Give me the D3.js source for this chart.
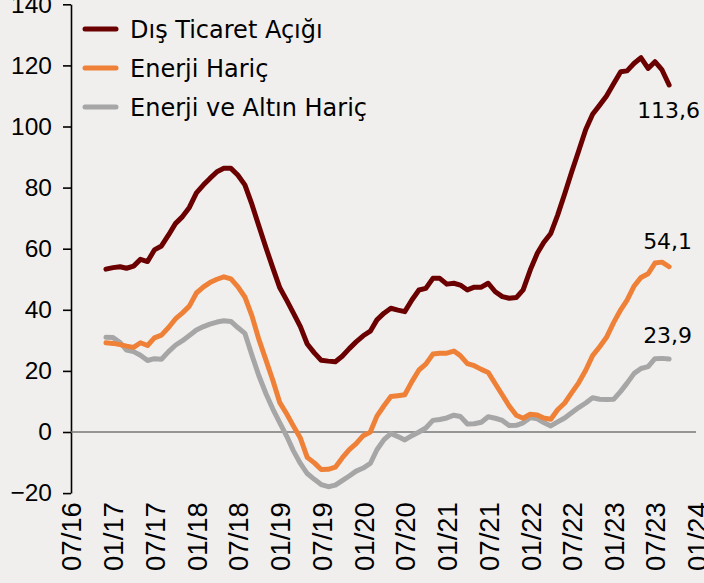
<!DOCTYPE html>
<html>
<head>
<meta charset="utf-8">
<script src="https://cdn.jsdelivr.net/npm/d3@7"></script>
<style>
    body { margin: 0; background: #f1efee; }
    #chart { width: 704px; height: 583px; }
</style>
</head>
<body>
<div id="chart"></div>
<script>
// monthly, 12/2016 - 09/2023 (12-month rolling, billion USD)
const firstMonth = "2016-12";
const lastMonth = "2023-09";

const disTicaret = [
    53.3, 53.8, 54.1, 53.6, 54.3, 56.5, 55.8, 59.6, 60.9, 64.5,
    68.2, 70.5, 73.5, 78.3, 80.9, 83.0, 85.2, 86.3, 86.3, 84.1,
    80.9, 74.5, 67.5, 60.4, 53.8, 47.2, 43.0, 39.0, 34.5, 28.8,
    25.9, 23.5, 23.2, 23.0, 24.8, 27.3, 29.5, 31.5, 33.0, 36.7,
    38.9, 40.5, 39.9, 39.4, 43.2, 46.5, 47.0, 50.3, 50.3, 48.4,
    48.7, 48.1, 46.5, 47.4, 47.4, 48.7, 45.9, 44.3, 43.8, 44.0,
    46.5, 53.0, 58.5, 62.0, 65.0, 71.0, 78.0, 85.0, 92.0, 99.0,
    104.0, 107.0, 110.0, 114.0, 117.9, 118.2, 120.7, 122.5, 119.0, 121.2,
    118.5, 113.6
];

const enerjiHaric = [
    29.2, 29.0, 28.6, 28.1, 27.7, 29.2, 28.3, 30.8, 31.7, 34.2,
    37.0, 39.0, 41.2, 45.5, 47.5, 48.9, 50.0, 50.8, 50.1, 47.6,
    44.2, 38.0, 30.4, 23.6, 17.0, 9.6, 5.8, 2.0, -2.0, -8.3,
    -10.1, -12.3, -12.2, -11.5, -8.5, -5.8, -3.8, -1.2, 0.0, 5.2,
    8.6, 11.6, 11.9, 12.2, 16.5, 20.3, 22.2, 25.5, 25.8, 25.8,
    26.5, 25.0, 22.4, 21.7, 20.5, 19.5, 15.8, 12.1, 8.5, 5.5,
    4.5, 5.8, 5.6, 4.6, 4.2, 7.3, 9.5, 12.8, 16.1, 20.2,
    25.0, 27.9, 31.0, 35.8, 40.0, 43.2, 47.8, 50.6, 51.8, 55.3,
    55.6, 54.1
];

const enerjiAltinHaric = [
    31.0, 30.9, 29.3, 26.8, 26.3, 25.1, 23.4, 24.0, 23.8, 26.3,
    28.4, 29.9, 31.6, 33.4, 34.5, 35.3, 36.0, 36.4, 36.2, 34.2,
    32.3, 25.1, 18.5, 12.6, 7.6, 3.0, -1.5, -6.1, -10.3, -13.6,
    -15.5, -17.2, -17.9, -17.4, -15.9, -14.4, -12.8, -11.8, -10.3, -5.8,
    -2.5, -0.5, -1.5, -2.6, -1.2, 0.0, 1.3, 3.8, 4.1, 4.6,
    5.5, 5.1, 2.6, 2.7, 3.2, 5.0, 4.5, 3.8, 2.1, 2.2,
    3.0, 4.7, 4.3, 3.1, 2.0, 3.3, 4.6, 6.3, 8.0, 9.5,
    11.2, 10.7, 10.6, 10.7, 13.3, 16.0, 19.2, 20.8, 21.4, 24.0,
    24.1, 23.9
];

const seriesNames = ["Dış Ticaret Açığı", "Enerji Hariç", "Enerji ve Altın Hariç"];
const seriesColors = ["#6b0000", "#ee8137", "#a6a6a6"];
const endLabels = ["113,6", "54,1", "23,9"];
const yTicks = [-20, 0, 20, 40, 60, 80, 100, 120, 140];

function drawChart() {
    const width = 704;
    const height = 583;

    const parseMonth = d3.timeParse("%Y-%m");
    const months = d3.timeMonth.range(parseMonth(firstMonth), d3.timeMonth.offset(parseMonth(lastMonth), 1));

    const svg = d3.create('svg')
        .attr('width', width)
        .attr('height', height)
        .style('background', '#f1efee');

    const xScale = d3.scaleTime()
        .domain([new Date(2016, 6, 1), new Date(2024, 0, 1)])
        .range([71, 697]);

    const yScale = d3.scaleLinear()
        .domain([-20, 140])
        .range([493.1, 4.3]);

    // y axis
    const yAxis = svg.append('g')
        .attr('transform', 'translate(71,0)')
        .call(d3.axisLeft(yScale).tickValues(yTicks).tickSize(8).tickPadding(11).tickSizeOuter(0));
    yAxis.select('.domain').attr('stroke', '#000').attr('stroke-width', 1.6);
    yAxis.selectAll('.tick line').attr('stroke', '#000').attr('stroke-width', 1.6);
    yAxis.selectAll('text')
        .attr('font-family', 'Liberation Sans, Arial, sans-serif')
        .attr('font-size', 24.5)
        .attr('fill', '#000');

    // x axis labels (rotated)
    const xAxis = svg.append('g')
        .attr('transform', `translate(0,${yScale(-20)})`)
        .call(d3.axisBottom(xScale).ticks(d3.timeMonth.every(6)).tickFormat(d3.timeFormat('%m/%y')).tickSize(0));
    xAxis.select('.domain').remove();
    xAxis.selectAll('text')
        .attr('font-family', 'Liberation Sans, Arial, sans-serif')
        .attr('font-size', 27.5)
        .attr('fill', '#000')
        .attr('text-anchor', 'end')
        .attr('transform', 'rotate(-90)')
        .attr('x', -9)
        .attr('y', 0)
        .attr('dy', '0.36em');

    // zero line
    svg.append('line')
        .attr('x1', 71)
        .attr('x2', 696)
        .attr('y1', yScale(0))
        .attr('y2', yScale(0))
        .attr('stroke', '#777')
        .attr('stroke-width', 1.6);

    const lineGenerator = d3.line()
        .x(d => xScale(d[0]))
        .y(d => yScale(d[1]));

    const allSeries = [disTicaret, enerjiHaric, enerjiAltinHaric];

    // draw grey first so dark line stays on top
    [2, 1, 0].forEach(i => {
        svg.append('path')
            .attr('d', lineGenerator(d3.zip(months, allSeries[i])))
            .attr('fill', 'none')
            .attr('stroke', seriesColors[i])
            .attr('stroke-width', 5)
            .attr('stroke-linejoin', 'round')
            .attr('stroke-linecap', 'round');
    });

    // value labels at the end of each line
    const lastDate = months[months.length - 1];
    const labelPos = [
        { dx: -32, dy: 33 },
        { dx: -26, dy: -18 },
        { dx: -26, dy: -16 }
    ];
    allSeries.forEach((s, i) => {
        svg.append('text')
            .attr('x', xScale(lastDate) + labelPos[i].dx)
            .attr('y', yScale(s[s.length - 1]) + labelPos[i].dy)
            .attr('font-family', 'DejaVu Sans, sans-serif')
            .attr('font-size', 22)
            .attr('fill', '#000')
            .text(endLabels[i]);
    });

    // legend
    const legend = svg.append('g');
    seriesNames.forEach((name, i) => {
        const ly = 29 + i * 39;
        legend.append('line')
            .attr('x1', 85)
            .attr('x2', 116)
            .attr('y1', ly)
            .attr('y2', ly)
            .attr('stroke', seriesColors[i])
            .attr('stroke-width', 5)
            .attr('stroke-linecap', 'round');
        legend.append('text')
            .attr('x', 130)
            .attr('y', ly + 8.5)
            .attr('font-family', 'DejaVu Sans, sans-serif')
            .attr('font-size', 24)
            .attr('fill', '#000')
            .text(name);
    });

    d3.select('#chart').node().append(svg.node());
}

drawChart();
</script>
</body>
</html>
